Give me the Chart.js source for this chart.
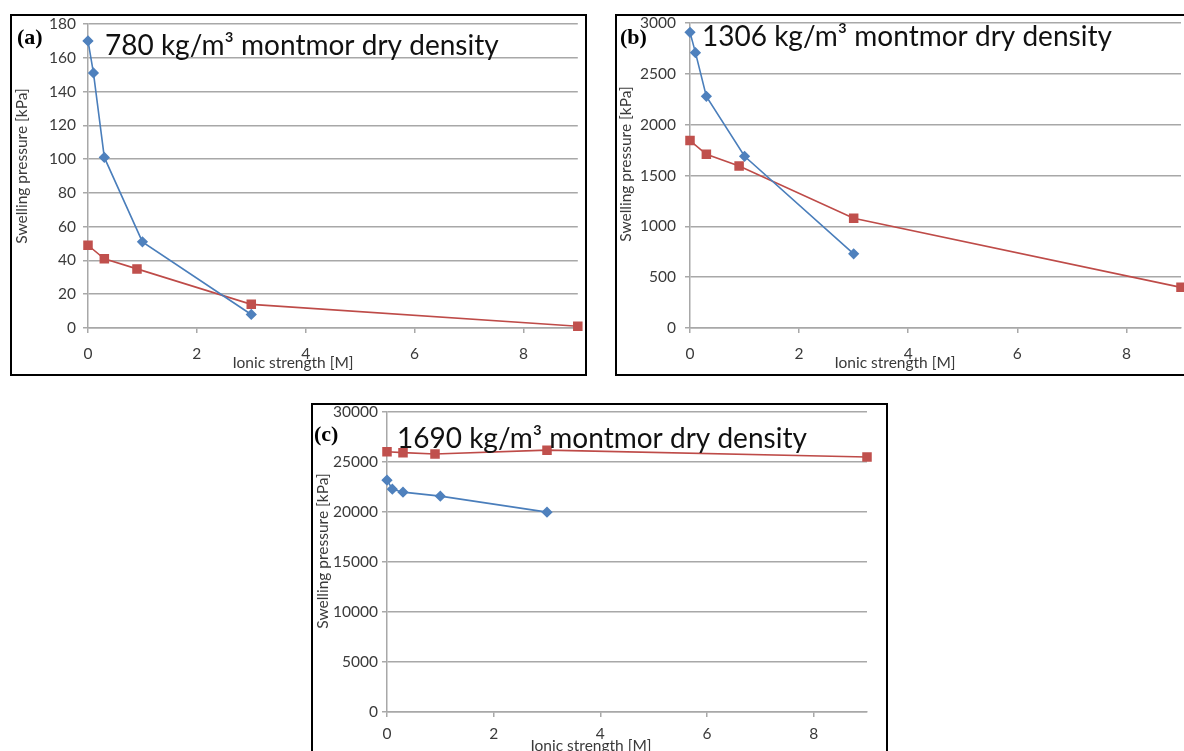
<!DOCTYPE html>
<html>
<head>
<meta charset="utf-8">
<script src="https://cdn.jsdelivr.net/npm/chart.js@4.4.1/dist/chart.umd.min.js"></script>
<style>
  html, body { margin: 0; padding: 0; background: #fff; width: 1184px; height: 751px; overflow: hidden; }
  .panel { position: absolute; border: 2px solid #000; box-sizing: border-box; width: 577px; height: 362px; }
  .panel canvas { position: absolute; left: 0; top: 0; }
</style>
</head>
<body>
<div class="panel" style="left:10px;top:14px"><canvas id="ca" width="573" height="358"></canvas></div>
<div class="panel" style="left:615px;top:14px"><canvas id="cb" width="573" height="358"></canvas></div>
<div class="panel" style="left:311px;top:403px"><canvas id="cc" width="573" height="358"></canvas></div>
<script>
// ionic strength [M] and swelling pressure [kPa]
// (a) 780 kg/m3
const strengthBlueA = [0, 0.1, 0.3, 1, 3];
const pressureBlueA = [170, 151, 101, 51, 8];
const strengthRedA = [0, 0.3, 0.9, 3, 9];
const pressureRedA = [49, 41, 35, 14, 1];
// (b) 1306 kg/m3
const strengthBlueB = [0, 0.1, 0.3, 1, 3];
const pressureBlueB = [2910, 2710, 2280, 1690, 730];
const strengthRedB = [0, 0.3, 0.9, 3, 9];
const pressureRedB = [1845, 1710, 1595, 1080, 400];
// (c) 1690 kg/m3
const strengthBlueC = [0, 0.1, 0.3, 1, 3];
const pressureBlueC = [23200, 22300, 22000, 21600, 20000];
const strengthRedC = [0, 0.3, 0.9, 3, 9];
const pressureRedC = [26050, 25950, 25820, 26200, 25520];

const panelLabels = ['(a)', '(b)', '(c)'];
const panelTitles = ['780 kg/m³ montmor dry density', '1306 kg/m³ montmor dry density', '1690 kg/m³ montmor dry density'];
const yMaxes = [180, 3000, 30000];
const ySteps = [20, 500, 5000];
const xTickValues = [0, 2, 4, 6, 8];
const xTitle = 'Ionic strength [M]';
const yTitle = 'Swelling pressure [kPa]';

const blueLine = '#4a7ebb', blueMarker = '#4f81bd';
const redLine = '#be4b48', redMarker = '#c0504d';
const gridColor = '#a8a8a8';
const tickColor = '#3a3a3a';

function pairs(xs, ys) {
  return xs.map((x, i) => ({x: x, y: ys[i]}));
}

// draws the panel letter, the big title inside the plot, and both axis titles
const panelText = {
  id: 'panelText',
  afterDraw(chart, args, o) {
    const ctx = chart.ctx;
    ctx.save();
    ctx.textBaseline = 'alphabetic';
    ctx.textAlign = 'left';
    ctx.fillStyle = '#000';
    ctx.font = 'bold 22px "Liberation Serif"';
    ctx.fillText(o.label, o.labelX, o.labelY);
    ctx.fillStyle = '#111';
    ctx.font = '28px Lato';
    ctx.fillText(o.title, o.titleX, o.titleY);
    ctx.fillStyle = '#3a3a3a';
    ctx.font = '15.5px Lato';
    ctx.textAlign = 'center';
    ctx.fillText(xTitle, o.xTitleX, o.xTitleY);
    ctx.translate(o.yTitleX, o.yTitleY);
    ctx.rotate(-Math.PI / 2);
    ctx.textBaseline = 'middle';
    ctx.fillText(yTitle, 0, 0);
    ctx.restore();
  }
};

class swellingChart {
  constructor(canvas, cfg) {
    this.canvas = canvas;
    this.cfg = cfg;
    this.generateData();
    this.generateConfig();
    this.chart = new Chart(this.canvas, this.config);
  }
  generateData() {
    const c = this.cfg;
    this.data = {
      datasets: [
        {
          data: pairs(c.blueX, c.blueY),
          borderColor: blueLine,
          backgroundColor: blueMarker,
          pointBackgroundColor: blueMarker,
          pointBorderColor: blueMarker,
          pointStyle: 'rectRot',
          pointRadius: 4.5,
          borderWidth: 1.6,
          clip: false,
        },
        {
          data: pairs(c.redX, c.redY),
          borderColor: redLine,
          backgroundColor: redMarker,
          pointBackgroundColor: redMarker,
          pointBorderColor: redMarker,
          pointStyle: 'rect',
          pointRadius: 5.6,
          borderWidth: 1.6,
          clip: false,
        },
      ]
    };
  }
  generateConfig() {
    const c = this.cfg;
    this.config = {
      type: 'scatter',
      data: this.data,
      options: {
        responsive: false,
        animation: false,
        showLine: true,
        layout: { padding: { left: 0, top: c.padTop, right: c.padRight, bottom: 0 } },
        plugins: {
          legend: { display: false },
          tooltip: { enabled: false },
          panelText: c.text,
        },
        scales: {
          x: {
            type: 'linear',
            min: 0,
            max: 9,
            afterBuildTicks: s => { s.ticks = xTickValues.map(v => ({value: v})); },
            afterFit: s => { s.height = c.xHeight; s.paddingLeft = 0; s.paddingRight = 0; },
            grid: { drawOnChartArea: false, drawTicks: true, tickLength: 5, color: gridColor, lineWidth: 1.5 },
            border: { color: gridColor, width: 1.5 },
            ticks: { color: tickColor, font: { family: 'Lato', size: 15.5 }, padding: c.xPad, maxRotation: 0,
                     callback: v => String(v) },
          },
          y: {
            type: 'linear',
            min: 0,
            max: c.yMax,
            afterFit: s => { s.width = c.yWidth; s.paddingTop = 0; s.paddingBottom = 0; },
            grid: { tickLength: 5, color: gridColor, lineWidth: 1.5 },
            border: { color: gridColor, width: 1.5 },
            ticks: { stepSize: c.yStep, color: tickColor, font: { family: 'Lato', size: 15.5 }, padding: c.yPad,
                     callback: v => String(v) },
          },
        }
      },
      plugins: [panelText],
    };
  }
}

new swellingChart(document.getElementById('ca'), {
  blueX: strengthBlueA, blueY: pressureBlueA, redX: strengthRedA, redY: pressureRedA,
  yMax: yMaxes[0], yStep: ySteps[0],
  yWidth: 76, xHeight: 46, padTop: 8, padRight: 6, xPad: 12, yPad: 7,
  text: { label: panelLabels[0], labelX: 5, labelY: 28, title: panelTitles[0], titleX: 93, titleY: 39,
          xTitleX: 281, xTitleY: 352, yTitleX: 10, yTitleY: 150 }
});
new swellingChart(document.getElementById('cb'), {
  blueX: strengthBlueB, blueY: pressureBlueB, redX: strengthRedB, redY: pressureRedB,
  yMax: yMaxes[1], yStep: ySteps[1],
  yWidth: 73, xHeight: 46, padTop: 6, padRight: 9, xPad: 12, yPad: 9,
  text: { label: panelLabels[1], labelX: 3, labelY: 28, title: panelTitles[1], titleX: 85, titleY: 30,
          xTitleX: 278, xTitleY: 352, yTitleX: 9, yTitleY: 148 }
});
new swellingChart(document.getElementById('cc'), {
  blueX: strengthBlueC, blueY: pressureBlueC, redX: strengthRedC, redY: pressureRedC,
  yMax: yMaxes[2], yStep: ySteps[2],
  yWidth: 74, xHeight: 51, padTop: 7, padRight: 19, xPad: 8, yPad: 4,
  text: { label: panelLabels[2], labelX: 1, labelY: 36, title: panelTitles[2], titleX: 84, titleY: 43,
          xTitleX: 278, xTitleY: 346, yTitleX: 10, yTitleY: 146 }
});
</script>
</body>
</html>
